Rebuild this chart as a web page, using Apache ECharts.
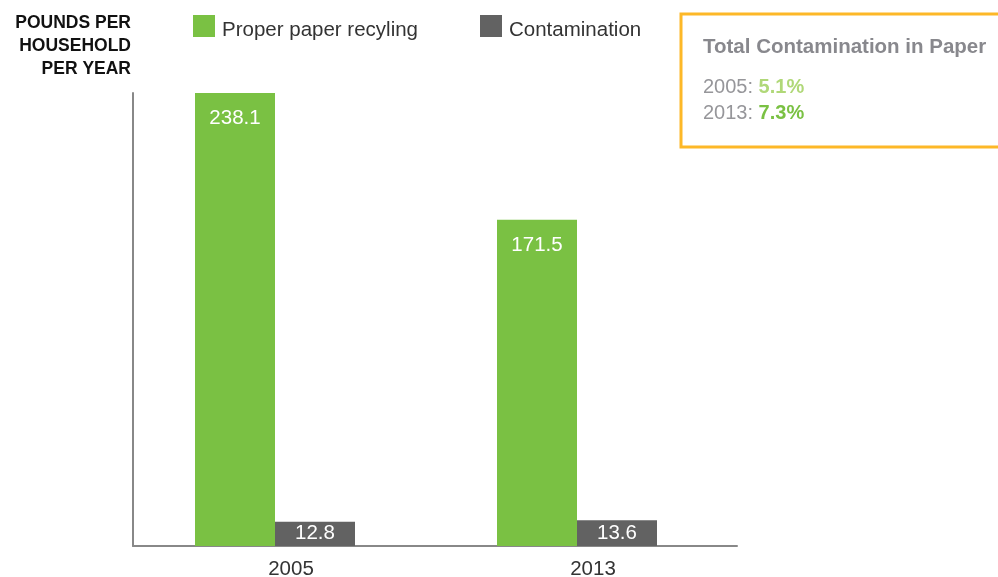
<!DOCTYPE html>
<html>
<head>
<meta charset="utf-8">
<script src="https://cdn.jsdelivr.net/npm/echarts@6/dist/echarts.min.js"></script>
<style>
  html, body { margin: 0; padding: 0; background: #fff; }
  #chart { width: 998px; height: 577px; }
</style>
</head>
<body>
<div id="chart"></div>
<script>
var years = ['2005', '2013'];
var properPaper = [238.1, 171.5];
var contamination = [12.8, 13.6];
var contaminationPct = ['5.1%', '7.3%'];

var FONT = '"Liberation Sans", Arial, sans-serif';
var chart = echarts.init(document.getElementById('chart'));

var option = {
    animation: false,
    textStyle: { fontFamily: FONT },
    legend: {
        left: 193,
        top: 15,
        padding: 0,
        itemWidth: 22,
        itemHeight: 22,
        itemGap: 62,
        icon: 'rect',
        formatter: '{t|{name}}',
        textStyle: {
            fontSize: 20.5, color: '#333', fontFamily: FONT,
            rich: { t: { fontSize: 20.5, color: '#333', fontFamily: FONT, padding: [9, 0, 0, 2] } }
        },
        data: ['Proper paper recyling', 'Contamination']
    },
    grid: { left: 133, right: 261, top: 93, bottom: 31, containLabel: false, outerBoundsMode: 'none' },
    xAxis: {
        type: 'category',
        data: years,
        axisLine: { lineStyle: { color: '#888', width: 2 } },
        axisTick: { show: false },
        axisLabel: { fontSize: 20.5, color: '#333', margin: 13, padding: [0, 0, 0, 14], fontFamily: FONT }
    },
    yAxis: {
        type: 'value',
        min: 0,
        max: 238.1,
        axisLine: { show: true, lineStyle: { color: '#888', width: 2 } },
        axisTick: { show: false },
        axisLabel: { show: false },
        splitLine: { show: false }
    },
    series: [
        {
            name: 'Proper paper recyling',
            type: 'bar',
            data: properPaper,
            barWidth: 80,
            barGap: '0%',
            itemStyle: { color: '#7ac143' },
            label: {
                show: true,
                position: 'insideTop',
                distance: 15,
                color: '#fff',
                fontSize: 20.5,
                fontFamily: FONT
            }
        },
        {
            name: 'Contamination',
            type: 'bar',
            data: contamination,
            barWidth: 80,
            itemStyle: { color: '#626262' },
            label: {
                show: true,
                position: 'inside',
                color: '#fff',
                fontSize: 20.5,
                fontFamily: FONT
            }
        },
        {
            // empty spacer so the pair sits left of the category centre, as in the original
            name: 'spacer',
            type: 'bar',
            data: [null, null],
            barWidth: 18,
            silent: true
        }
    ],
    graphic: [
        {
            type: 'text',
            x: 131,
            y: 12,
            style: {
                text: 'POUNDS PER\nHOUSEHOLD\nPER YEAR',
                align: 'right',
                verticalAlign: 'top',
                font: 'bold 17.5px ' + FONT,
                lineHeight: 23,
                fill: '#111'
            }
        },
        {
            type: 'rect',
            shape: { x: 681, y: 14, width: 330, height: 133 },
            style: { fill: '#fff', stroke: '#fdb827', lineWidth: 3 }
        },
        {
            type: 'text',
            x: 703,
            y: 47,
            style: {
                text: 'Total Contamination in Paper',
                verticalAlign: 'middle',
                font: 'bold 20.5px ' + FONT,
                fill: '#88888d'
            }
        },
        {
            type: 'text',
            x: 703,
            y: 75,
            style: {
                text: '{y|' + years[0] + ': }{a|' + contaminationPct[0] + '}\n{y|' + years[1] + ': }{b|' + contaminationPct[1] + '}',
                verticalAlign: 'top',
                rich: {
                    y: { fontSize: 20, fill: '#96969a', lineHeight: 25.5, fontFamily: FONT },
                    a: { fontSize: 20, fontWeight: 'bold', fill: '#b0d878', lineHeight: 25.5, fontFamily: FONT },
                    b: { fontSize: 20, fontWeight: 'bold', fill: '#7ac143', lineHeight: 25.5, fontFamily: FONT }
                }
            }
        }
    ]
};

chart.setOption(option);
</script>
</body>
</html>
